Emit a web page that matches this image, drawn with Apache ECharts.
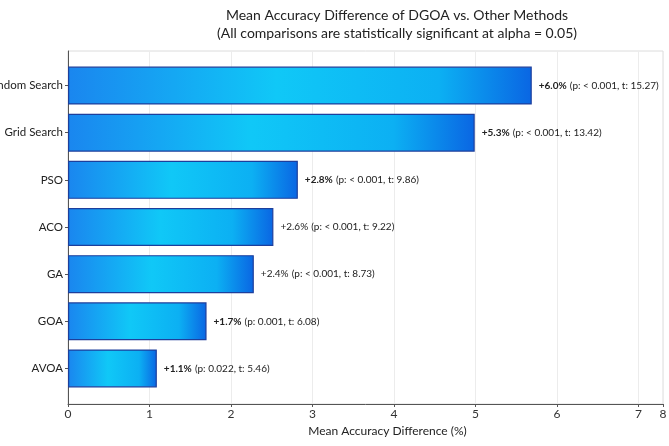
<!DOCTYPE html>
<html>
<head>
<meta charset="utf-8">
<script src="https://cdn.jsdelivr.net/npm/echarts@6/dist/echarts.min.js"></script>
<style>
  html, body { margin: 0; padding: 0; background: #fff; }
  #chart { width: 669px; height: 446px; }
</style>
</head>
<body>
<div id="chart"></div>
<script>
const methods = ['Random Search', 'Grid Search', 'PSO', 'ACO', 'GA', 'GOA', 'AVOA'];
// Bar lengths as drawn in the picture
const barValues = [5.69, 4.99, 2.82, 2.52, 2.28, 1.70, 1.09];
// Annotation text next to each bar
const pctLabels = ['+6.0%', '+5.3%', '+2.8%', '+2.6%', '+2.4%', '+1.7%', '+1.1%'];
const statLabels = [
  '(p: < 0.001, t: 15.27)',
  '(p: < 0.001, t: 13.42)',
  '(p: < 0.001, t: 9.86)',
  '(p: < 0.001, t: 9.22)',
  '(p: < 0.001, t: 8.73)',
  '(p: 0.001, t: 6.08)',
  '(p: 0.022, t: 5.46)'
];
const xTickLabels = ['0', '1', '2', '3', '4', '5', '6', '7', '8'];

const fontFamily = 'Lato';
const axisMax = 7.3;
const chart = echarts.init(document.getElementById('chart'));

const barGradient = new echarts.graphic.LinearGradient(0, 0, 1, 0, [
  { offset: 0, color: '#1a86ef' },
  { offset: 0.45, color: '#10c8f7' },
  { offset: 0.8, color: '#0cb0f3' },
  { offset: 1, color: '#0a66e3' }
]);

chart.setOption({
  backgroundColor: '#fff',
  textStyle: { fontFamily: fontFamily },
  title: {
    text: 'Mean Accuracy Difference of DGOA vs. Other Methods\n(All comparisons are statistically significant at alpha = 0.05)',
    left: 392,
    top: 1,
    textAlign: 'center',
    textStyle: {
      fontFamily: fontFamily,
      fontSize: 14,
      fontWeight: 'normal',
      color: '#222',
      lineHeight: 18
    }
  },
  grid: [
    // outer frame with the value axis
    {
      left: 68, right: 6, top: 51, height: 353,
      outerBoundsMode: 'none', containLabel: false,
      show: true, borderColor: '#dcdcdc', borderWidth: 1
    },
    // inner area holding the bars
    { left: 68, right: 6, top: 62, height: 330, outerBoundsMode: 'none', containLabel: false }
  ],
  xAxis: [
    {
      gridIndex: 0,
      type: 'value',
      min: 0,
      max: axisMax,
      interval: 1,
      name: 'Mean Accuracy Difference (%)',
      nameLocation: 'middle',
      nameGap: 20,
      nameTextStyle: { fontSize: 12, color: '#222', padding: [0, 0, 0, 44] },
      axisLine: { lineStyle: { color: '#555', width: 1 } },
      axisTick: { show: true, length: 3, lineStyle: { color: '#555' } },
      axisLabel: {
        fontSize: 12,
        color: '#333',
        margin: 4,
        showMaxLabel: true,
        formatter: (v, i) => xTickLabels[i]
      },
      splitLine: { show: true, lineStyle: { color: '#ececec', width: 1 } }
    },
    { gridIndex: 1, type: 'value', min: 0, max: axisMax, show: false }
  ],
  yAxis: [
    {
      gridIndex: 0,
      type: 'value',
      axisLine: { show: true, lineStyle: { color: '#555', width: 1 } },
      axisTick: { show: false },
      axisLabel: { show: false },
      splitLine: { show: false }
    },
    {
      gridIndex: 1,
      type: 'category',
      data: methods,
      inverse: true,
      axisLine: { show: false },
      axisTick: { show: true, alignWithLabel: true, length: 3, lineStyle: { color: '#555' } },
      axisLabel: { fontSize: 11.5, color: '#222', margin: 5 }
    }
  ],
  series: [{
    type: 'bar',
    xAxisIndex: 1,
    yAxisIndex: 1,
    data: barValues,
    barWidth: 38,
    itemStyle: {
      color: barGradient,
      borderColor: '#1d3f9c',
      borderWidth: 1.2
    },
    label: {
      show: true,
      position: 'right',
      distance: 7,
      formatter: p => {
        const style = p.dataIndex === 3 || p.dataIndex === 4 ? 'pctPlain' : 'pct';
        return `{${style}|${pctLabels[p.dataIndex]}} {stat|${statLabels[p.dataIndex]}}`;
      },
      rich: {
        pct: { fontSize: 10, fontWeight: 'bold', color: '#222', fontFamily: fontFamily },
        pctPlain: { fontSize: 10, color: '#222', fontFamily: fontFamily },
        stat: { fontSize: 10, color: '#222', fontFamily: fontFamily }
      }
    }
  }]
});
</script>
</body>
</html>
